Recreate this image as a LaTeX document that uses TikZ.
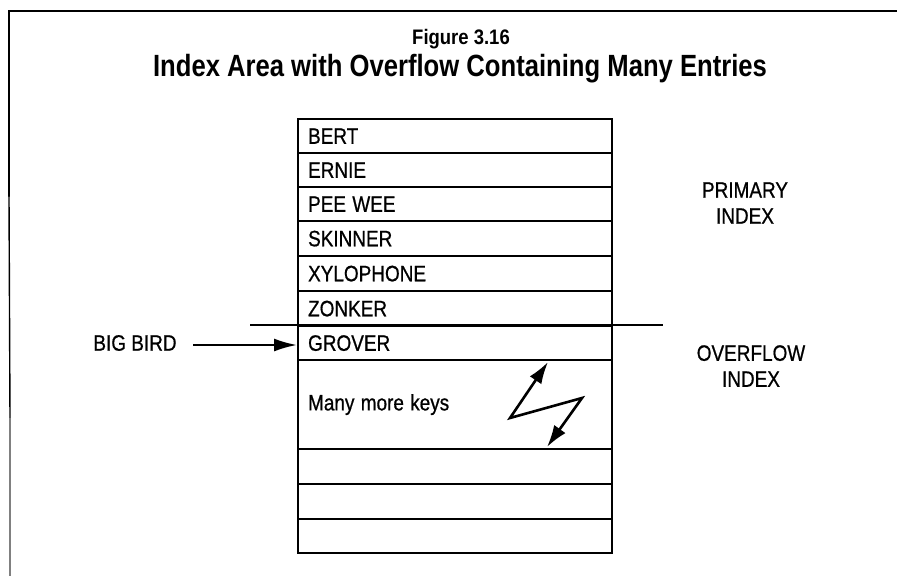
\documentclass[tikz,border=0pt]{standalone}
\usepackage{fontspec}
\setmainfont{Liberation Sans}
\newfontfamily\heavy[FakeBold=0.8]{Liberation Sans}
\usetikzlibrary{arrows.meta}
\newcommand{\cnd}[1]{\scalebox{0.85}[1]{#1}}
\begin{document}
\begin{tikzpicture}[x=1pt,y=-1pt,
  rowbox/.style={draw,line width=2.2pt,rectangle,anchor=north west,minimum width=314pt,
    text width=294pt,inner xsep=10pt,inner ysep=0pt,align=left,
    font=\heavy\fontsize{22.3}{26}\selectfont},
  lbl/.style={font=\heavy\fontsize{22.3}{26}\selectfont,align=center,inner sep=0pt,xscale=0.85,transform shape},
  arr/.style={line width=2.2pt,-{Latex[length=23pt,width=13pt]}},
  zarr/.style={line width=2.6pt,{Latex[length=22pt,width=14pt]}-{Latex[length=22pt,width=14pt]}},
  framel/.style={line width=2.4pt,line cap=round}
]
\useasboundingbox (0,0) rectangle (897,576);
% frame
\coordinate (f0) at (9,11);
\coordinate (f1) at (897,11);
\coordinate (f2) at (9,196);
\coordinate (f3) at (10,418);
\coordinate (f4) at (10,576);
\draw[framel] (f1) -- (f0) -- (f2);
\draw[line width=1.4pt] (f2) -- (f3);
\draw[line width=1.4pt,gray] (f3) -- (f4);
% titles
\node[font=\bfseries\fontsize{21}{24}\selectfont,inner sep=0pt,xscale=0.88,transform shape] (fig) at (461,39) {Figure 3.16};
\node[font=\bfseries\fontsize{30.7}{34}\selectfont,inner sep=0pt,xscale=0.835,transform shape] (title) at (460,69) {Index Area with Overflow Containing Many Entries};
% primary rows
\node[rowbox,minimum height=34pt] (r1) at (297,118) {\cnd{BERT}};
\node[rowbox,minimum height=34pt] (r2) at (297,152) {\cnd{ERNIE}};
\node[rowbox,minimum height=34pt] (r3) at (297,186) {\cnd{PEE WEE}};
\node[rowbox,minimum height=35pt] (r4) at (297,220) {\cnd{SKINNER}};
\node[rowbox,minimum height=35pt] (r5) at (297,255) {\cnd{XYLOPHONE}};
\node[rowbox,minimum height=35pt] (r6) at (297,290) {\cnd{ZONKER}};
% overflow rows
\node[rowbox,minimum height=34pt] (r7) at (297,325) {\cnd{GROVER}};
\node[rowbox,minimum height=89pt] (r8) at (297,359) {\cnd{Many more keys}};
\node[rowbox,minimum height=35pt] (r9) at (297,448) {};
\node[rowbox,minimum height=35pt] (r10) at (297,483) {};
\node[rowbox,minimum height=34pt] (r11) at (297,518) {};
% divider
\coordinate (dl) at (250,325);
\coordinate (dr) at (663,325);
\draw[line width=2.4pt] (dl) -- (dr);
% labels
\node[lbl] (bigbird) at (135,343) {BIG BIRD};
\coordinate (bbstart) at (193,345);
\draw[arr] (bbstart) -- (r7.west |- bbstart);
\node[lbl] (primary) at (745,203) {PRIMARY\\INDEX};
\node[lbl] (overflow) at (751,366) {OVERFLOW\\INDEX};
% zigzag arrow
\coordinate (z1) at (548,362);
\coordinate (z2) at (510,418);
\coordinate (z3) at (582,398);
\coordinate (z4) at (547,447);
\draw[zarr,line join=miter] (z1) -- (z2) -- (z3) -- (z4);
\end{tikzpicture}
\end{document}
